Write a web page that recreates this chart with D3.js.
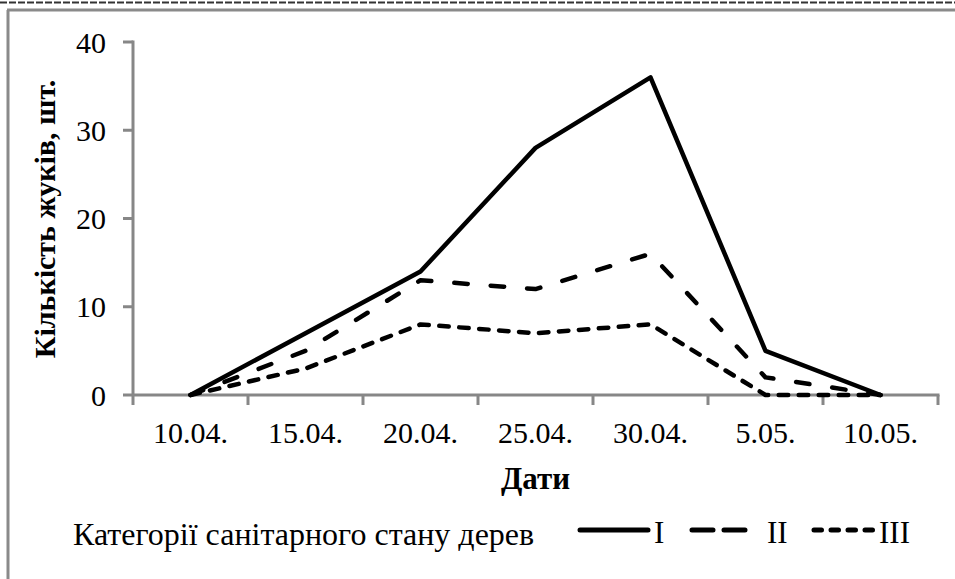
<!DOCTYPE html>
<html>
<head>
<meta charset="utf-8">
<script src="https://cdn.jsdelivr.net/npm/d3@7/dist/d3.min.js"></script>
<style>
  html, body { margin: 0; padding: 0; background: #fff; }
  svg { display: block; font-family: "Liberation Serif", "Times New Roman", serif; }
</style>
</head>
<body>
<svg id="chart" width="955" height="579"></svg>
<script>
const categories = ["10.04.", "15.04.", "20.04.", "25.04.", "30.04.", "5.05.", "10.05."];
const seriesI   = [0, 7, 14, 28, 36, 5, 0];
const seriesII  = [0, 5, 13, 12, 16, 2, 0];
const seriesIII = [0, 3, 8, 7, 8, 0, 0];
const yTicks = [0, 10, 20, 30, 40];
const seriesNames = ["I", "II", "III"];
const yTitle = "Кількість жуків, шт.";
const xTitle = "Дати";
const legendTitle = "Категорії санітарного стану дерев";

(function () {
const svg = d3.select("#chart");
const W = 955, H = 579;
const pLeft = 133, pRight = 938, pTop = 42, pBottom = 395;
const axisColor = "#878787";

// frame
svg.append("line").attr("x1", 0).attr("x2", W).attr("y1", 2.5).attr("y2", 2.5)
  .attr("stroke", "#333").attr("stroke-width", 2).attr("stroke-dasharray", "7,2");
svg.append("line").attr("x1", 7).attr("x2", W).attr("y1", 10).attr("y2", 10)
  .attr("stroke", "#8a8a8a").attr("stroke-width", 3);
svg.append("line").attr("x1", 8).attr("x2", 8).attr("y1", 10).attr("y2", H)
  .attr("stroke", "#8a8a8a").attr("stroke-width", 3);

const xBand = d3.scaleBand().domain(categories).range([pLeft, pRight]).padding(0);
const x = d3.scalePoint().domain(categories).range([pLeft, pRight]).padding(0.5);
const y = d3.scaleLinear().domain([0, 40]).range([pBottom, pTop]);

// y axis
const gy = svg.append("g");
gy.append("line").attr("x1", pLeft).attr("x2", pLeft).attr("y1", y(40) - 1.5).attr("y2", pBottom)
  .attr("stroke", axisColor).attr("stroke-width", 3);
gy.selectAll("line.t").data(yTicks).join("line").attr("class", "t")
  .attr("x1", pLeft - 10).attr("x2", pLeft).attr("y1", d => y(d)).attr("y2", d => y(d))
  .attr("stroke", axisColor).attr("stroke-width", 3);
gy.selectAll("text").data(yTicks).join("text")
  .attr("x", 106).attr("y", d => y(d)).attr("dy", "0.35em")
  .attr("text-anchor", "end").attr("font-size", 30).attr("fill", "#000")
  .text(d => d);

// x axis
const gx = svg.append("g");
gx.append("line").attr("x1", pLeft).attr("x2", pRight + 1.5).attr("y1", pBottom).attr("y2", pBottom)
  .attr("stroke", axisColor).attr("stroke-width", 3);
const tickPos = categories.map(c => xBand(c)).concat([xBand(categories[categories.length - 1]) + xBand.bandwidth()]);
gx.selectAll("line.t").data(tickPos).join("line").attr("class", "t")
  .attr("x1", d => d).attr("x2", d => d).attr("y1", pBottom).attr("y2", pBottom + 10)
  .attr("stroke", axisColor).attr("stroke-width", 3);
gx.selectAll("text").data(categories).join("text")
  .attr("x", d => x(d)).attr("y", 443)
  .attr("text-anchor", "middle").attr("font-size", 30).attr("fill", "#000")
  .text(d => d);

// titles
svg.append("text").attr("transform", `translate(55,219) rotate(-90)`)
  .attr("text-anchor", "middle").attr("font-size", 30).attr("font-weight", "bold")
  .text(yTitle);
svg.append("text").attr("x", (pLeft + pRight) / 2).attr("y", 489)
  .attr("text-anchor", "middle").attr("font-size", 31).attr("font-weight", "bold")
  .text(xTitle);

// lines
const styles = [
  { data: seriesI, dash: null },
  { data: seriesII, dash: "13.5,23" },
  { data: seriesIII, dash: "9.5,10.5" }
];
const line = d3.line().x((d, i) => x(categories[i])).y(d => y(d));
styles.slice().reverse().forEach(s => {
  svg.append("path").attr("d", line(s.data))
    .attr("fill", "none").attr("stroke", "#000").attr("stroke-width", 4.5)
    .attr("stroke-linejoin", "round").attr("stroke-linecap", "round")
    .attr("stroke-dasharray", s.dash);
});

// legend
svg.append("text").attr("x", 73).attr("y", 545).attr("font-size", 32).text(legendTitle);
const legendItems = [
  { x1: 580, x2: 648, dash: null, tx: 654 },
  { x1: 692, x2: 746, dash: "21,11", tx: 767 },
  { x1: 814, x2: 877, dash: "7.5,9.5", tx: 879 }
];
legendItems.forEach((it, i) => {
  svg.append("line").attr("x1", it.x1).attr("x2", it.x2).attr("y1", 530).attr("y2", 530)
    .attr("stroke", "#000").attr("stroke-width", 5).attr("stroke-linecap", "round")
    .attr("stroke-dasharray", it.dash);
  svg.append("text").attr("x", it.tx).attr("y", 543).attr("font-size", 31).text(seriesNames[i]);
});
})();
</script>
</body>
</html>
